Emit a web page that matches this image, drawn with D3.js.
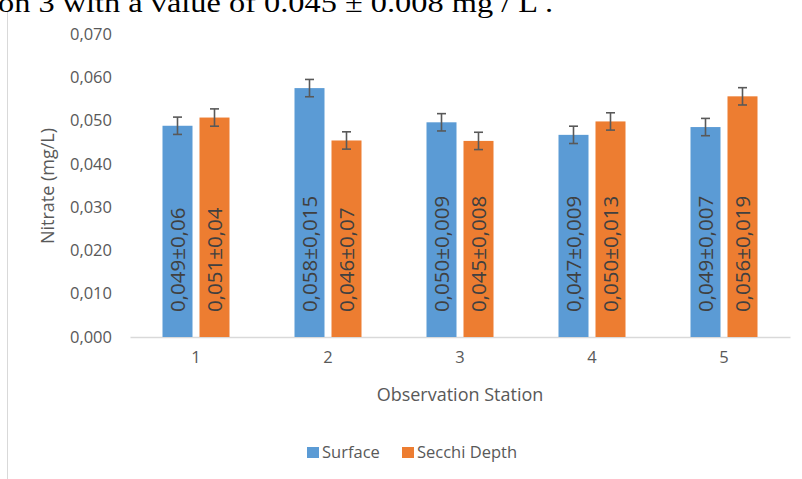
<!DOCTYPE html>
<html>
<head>
<meta charset="utf-8">
<script src="https://cdn.jsdelivr.net/npm/d3@7"></script>
<style>
  html, body { margin: 0; padding: 0; background: #fff; }
  svg { display: block; }
  text { font-family: "Open Sans", sans-serif; }
</style>
</head>
<body>
<svg id="chart" width="802" height="479"></svg>
<script>
// ---- data ----
const stations = ["1", "2", "3", "4", "5"];
const seriesNames = ["Surface", "Secchi Depth"];
const surfaceValues = [0.0488, 0.0575, 0.0496, 0.0467, 0.0485];
const secchiValues  = [0.0507, 0.0454, 0.0453, 0.0498, 0.0556];
const surfaceErrors = [0.002, 0.002, 0.002, 0.002, 0.002];
const secchiErrors  = [0.002, 0.002, 0.002, 0.002, 0.002];
const surfaceLabels = ["0,049±0,06", "0,058±0,015", "0,050±0,009", "0,047±0,009", "0,049±0,007"];
const secchiLabels  = ["0,051±0,04", "0,046±0,07", "0,045±0,008", "0,050±0,013", "0,056±0,019"];
const yTicks = [0, 0.01, 0.02, 0.03, 0.04, 0.05, 0.06, 0.07];
const colors = ["#5B9BD5", "#ED7D31"];
const headerText = "on 3 with a value of 0.045 ±  0.008 mg / L .";

const rows = stations.map((s, i) => ({
  station: s,
  items: [
    { series: seriesNames[0], value: surfaceValues[i], err: surfaceErrors[i], label: surfaceLabels[i] },
    { series: seriesNames[1], value: secchiValues[i], err: secchiErrors[i], label: secchiLabels[i] }
  ]
}));

const svg = d3.select("#chart");

// header text of surrounding document (cropped)
svg.append("text")
  .attr("x", -2).attr("y", 12)
  .attr("textLength", 555)
  .attr("lengthAdjust", "spacingAndGlyphs")
  .style("font-family", "'Liberation Serif', 'Times New Roman', serif")
  .style("font-size", "27px")
  .attr("fill", "#000")
  .text(headerText);

// chart frame left border
svg.append("line")
  .attr("x1", 7.5).attr("x2", 7.5).attr("y1", 12).attr("y2", 479)
  .attr("stroke", "#d9d9d9").attr("stroke-width", 1);

const x0 = d3.scaleBand().domain(stations).range([130, 790]).paddingInner(0).paddingOuter(0);
const half = 33.5;
const x1 = d3.scaleBand().domain(seriesNames)
  .range([x0.bandwidth() / 2 - half, x0.bandwidth() / 2 + half])
  .paddingInner(7 / 37).paddingOuter(0);
const y = d3.scaleLinear().domain([0, 0.07]).range([337, 34]);

// y axis labels
const yAxis = d3.axisLeft(y).tickValues(yTicks)
  .tickFormat(d => d3.format(".3f")(d).replace(".", ","))
  .tickSize(0).tickPadding(0);
const gy = svg.append("g").attr("transform", "translate(112,0)").call(yAxis);
gy.select(".domain").remove();
gy.selectAll("text")
  .attr("fill", "#595959")
  .style("font-family", "'Open Sans', sans-serif")
  .style("font-size", "16.5px");

// baseline / x axis
const xAxis = d3.axisBottom(x0).tickSize(0).tickPadding(14);
const gx = svg.append("g").attr("transform", "translate(0,337)").call(xAxis);
gx.select(".domain").attr("stroke", "#d9d9d9").attr("stroke-width", 1.5);
gx.selectAll("text")
  .attr("fill", "#595959")
  .style("font-family", "'Open Sans', sans-serif")
  .style("font-size", "16.5px");

// bars
const groups = svg.append("g").selectAll("g.station").data(rows).join("g")
  .attr("class", "station")
  .attr("transform", d => `translate(${x0(d.station)},0)`);

groups.selectAll("rect").data(d => d.items).join("rect")
  .attr("x", d => x1(d.series))
  .attr("width", x1.bandwidth())
  .attr("y", d => y(d.value))
  .attr("height", d => y(0) - y(d.value))
  .attr("fill", (d, i) => colors[i]);

// error bars
const capW = 9;
const eb = groups.selectAll("g.err").data(d => d.items).join("g").attr("class", "err")
  .attr("stroke", "#595959").attr("stroke-width", 1.6);
eb.append("line")
  .attr("x1", d => x1(d.series) + x1.bandwidth() / 2)
  .attr("x2", d => x1(d.series) + x1.bandwidth() / 2)
  .attr("y1", d => y(d.value + d.err))
  .attr("y2", d => y(d.value - d.err));
eb.append("line")
  .attr("x1", d => x1(d.series) + x1.bandwidth() / 2 - capW / 2)
  .attr("x2", d => x1(d.series) + x1.bandwidth() / 2 + capW / 2)
  .attr("y1", d => y(d.value + d.err))
  .attr("y2", d => y(d.value + d.err));
eb.append("line")
  .attr("x1", d => x1(d.series) + x1.bandwidth() / 2 - capW / 2)
  .attr("x2", d => x1(d.series) + x1.bandwidth() / 2 + capW / 2)
  .attr("y1", d => y(d.value - d.err))
  .attr("y2", d => y(d.value - d.err));

// in-bar rotated labels
groups.selectAll("text.barlabel").data(d => d.items).join("text")
  .attr("class", "barlabel")
  .attr("transform", d => `translate(${x1(d.series) + x1.bandwidth() / 2},${y(0) - 25}) rotate(-90)`)
  .attr("text-anchor", "start")
  .attr("dy", "0.35em")
  .attr("fill", "#404040")
  .style("font-size", "20.5px")
  .text(d => d.label);

// axis titles
svg.append("text")
  .attr("transform", "translate(48,186) rotate(-90)")
  .attr("text-anchor", "middle")
  .attr("dy", "0.35em")
  .attr("fill", "#595959")
  .style("font-size", "18px")
  .text("Nitrate (mg/L)");

svg.append("text")
  .attr("x", 460).attr("y", 395)
  .attr("text-anchor", "middle")
  .attr("dy", "0.35em")
  .attr("fill", "#595959")
  .style("font-size", "18px")
  .text("Observation Station");

// legend
const legendX = [307, 402];
const legend = svg.append("g").selectAll("g").data(seriesNames).join("g")
  .attr("transform", (d, i) => `translate(${legendX[i]},447)`);
legend.append("rect").attr("width", 12).attr("height", 11).attr("fill", (d, i) => colors[i]);
legend.append("text")
  .attr("x", 15).attr("y", 5.5).attr("dy", "0.35em")
  .attr("fill", "#595959")
  .style("font-size", "16.5px")
  .text(d => d);
</script>
</body>
</html>
